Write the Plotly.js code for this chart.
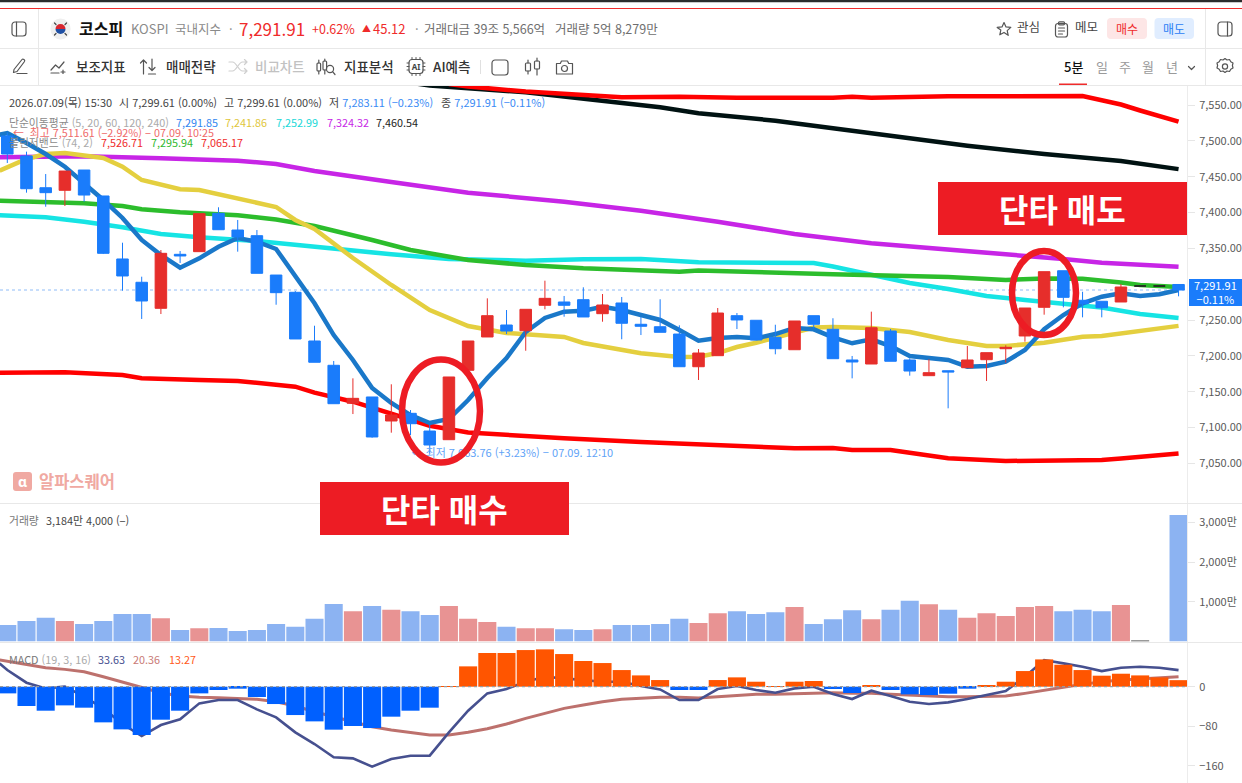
<!DOCTYPE html>
<html lang="ko">
<head>
<meta charset="utf-8">
<title>코스피 5분 차트</title>
<script src="https://cdn.plot.ly/plotly-3.0.1.min.js"></script>
<style>html,body{margin:0;padding:0;background:#fff;overflow:hidden}#chart{width:1242px;height:783px}</style>
</head>
<body>
<div id="chart"></div>
<script>
// ---------- candles (index, open, high, low, close) ----------
const candleIdx = [0,1,2,3,4,5,6,7,8,9,10,11,12,13,14,15,16,17,18,19,20,21,22,23,24,25,26,27,28,29,30,31,32,33,34,35,36,37,38,39,40,41,42,43,44,45,46,47,48,49,50,51,52,53,54,55,56,57,58,61];
const candleOpen = [7506.8,7478.9,7434.6,7431,7459.3,7423.1,7335.2,7302.7,7266.4,7341.7,7345.4,7398.9,7375.6,7367.7,7312.8,7288.7,7220.8,7186.9,7133.9,7142.7,7109.2,7119.9,7095.2,7083.1,7179.9,7226.4,7243.1,7235.1,7270.6,7275.2,7278.4,7258.9,7273.8,7244.1,7240.7,7230.5,7184.9,7200.3,7256.1,7249.7,7225.9,7208.6,7256.1,7237.1,7194.3,7188.7,7234.7,7194.3,7172.4,7179.3,7183.5,7194.7,7210,7227.8,7267.8,7318.8,7277.6,7276.2,7275.2,7299.61];
const candleHigh = [7511.61,7484.9,7453.7,7457.9,7459.3,7423.1,7357.9,7310.5,7347.7,7346.3,7398.4,7407.3,7389.6,7375.6,7312.8,7290.5,7242.1,7192.9,7168.7,7142.7,7160.4,7124.5,7103.6,7170.6,7220.8,7280.3,7264,7265,7304.9,7283.6,7295.7,7286.3,7282.2,7254.3,7279,7242.7,7209.6,7266.8,7259.8,7249.7,7243.5,7248.7,7256.1,7252.5,7199.9,7261.7,7237.5,7196.6,7195.3,7179.3,7213.8,7204.5,7214.8,7266.8,7317.5,7318.8,7289.5,7276.2,7300.3,7299.61];
const candleLow = [7469.1,7427.7,7408.1,7409.1,7415.1,7342.1,7291,7251.5,7258.4,7329.6,7345.4,7376,7345.4,7315.2,7271.4,7223.6,7191.1,7133.3,7118.9,7085.9,7092.9,7089.6,7063.76,7083.1,7179.9,7226.4,7230.5,7207.2,7265,7254.7,7254.3,7247.7,7223.2,7229.1,7232.9,7184.9,7166.4,7200.3,7237.5,7222.2,7202.2,7208.6,7238.5,7196.1,7168.7,7188.7,7192.5,7172.4,7172.4,7126.9,7183.5,7165,7190.5,7219.8,7257.5,7267.8,7253.8,7253.8,7275.2,7283.11];
const candleClose = [7481.6,7433.2,7427.7,7457.9,7424.4,7343.1,7311.5,7276.6,7343.1,7339.4,7398.4,7376,7365.9,7315.2,7288.2,7223.6,7191.1,7133.3,7140.8,7086.9,7117.5,7105.4,7075.7,7170.6,7220.8,7256.1,7234.7,7265,7280.3,7270.6,7254.3,7271,7245.5,7241.3,7232.9,7184.9,7204,7259.8,7250.1,7222.2,7210,7248.7,7244.1,7196.1,7191.5,7239.3,7192.5,7178.9,7176.6,7177.5,7194.3,7204.5,7212,7266.8,7317.5,7281.7,7272.8,7267.2,7296.1,7291.91];
const flatIdx = [59,60];
const flatPrice = [7297.5,7297.5];
const lastClose = 7291.91;

// ---------- moving averages and Bollinger bands ----------
const ma5X = [-0.4,0,1,2,3,4,5,6,7,8,9,10,11,12,13,14,15,16,17,18,19,20,21,22,23,24,25,26,27,28,29,30,31,32,33,34,35,36,37,38,39,40,41,42,43,44,45,46,47,48,49,50,51,52,53,54,55,56,57,58,59,60,61];
const ma5 = [7508.6,7510.9,7497,7481.6,7463.9,7441.2,7417.5,7392.4,7361.7,7340.7,7323,7336.1,7352.3,7364.5,7359.3,7349.1,7310.5,7273.4,7229.1,7194.3,7155.2,7134.3,7117.5,7106.4,7112,7138.5,7169.2,7197.1,7233.3,7252.9,7261.7,7263,7268.6,7264,7257,7250.1,7236.1,7221.2,7225,7226.4,7224.5,7230.5,7239,7237.1,7225.9,7217.6,7223.2,7213.8,7199.9,7196.6,7194.3,7184.9,7185.9,7191.9,7208.2,7237.1,7257,7273.4,7282.6,7287.3,7283.6,7285.9,7291.85];
const ma20X = [-0.4,1,2,3,5,6,7,9,10,12,14,15,16,18,20,22,24,26,27,29,30,33,35,36,37,38,39,40,42,43,45,47,49,51,52,54,56,57,59,61];
const ma20 = [7458.3,7474.7,7481.6,7483,7476.1,7463.9,7445.4,7432.4,7431.4,7420.3,7407.7,7389.6,7377,7336.6,7298.9,7264,7241.7,7232,7230.5,7226.4,7218,7203.6,7198.5,7198.9,7204,7212.4,7218.4,7225,7239.6,7240.3,7239,7233.3,7222.2,7213.8,7213.8,7218.4,7226.8,7227.8,7234.7,7241.86];
const ma60X = [-0.4,2,4,6,8,10,13,16,20,23,27,30,33,36,42,43,45,47,49,51,53,55,57,59,61];
const ma60 = [7396.1,7393.3,7387.2,7379.4,7370,7365.4,7360.3,7351.9,7341.7,7335.2,7332.8,7334.8,7335.2,7330.6,7329.6,7324.7,7313.5,7301.7,7293.3,7283.6,7278,7272.4,7267.5,7258.4,7252.99];
const ma120X = [-0.4,4,8,12,14,16,20,24,29,33,37,41,45,49,52,55,57,61];
const ma120 = [7477,7478.4,7475.6,7472.3,7467.7,7457.9,7442.6,7427.7,7415.1,7402.5,7387.2,7370,7357.1,7347.7,7341.7,7335.2,7330,7324.32];
const ma240X = [20,22,27,32,34,36,40,43,47,50,54,56,58,61];
const ma240 = [7585,7577.2,7567.7,7553.2,7546.8,7538.4,7528.1,7517.5,7503.5,7493.2,7481.6,7477,7471.9,7460.54];
const bbUpX = [23,24,27,32,35,38,43,44,45,49,56,58,59,61];
const bbUp = [7579.3,7575.8,7568.8,7560.7,7561.6,7560.2,7560.2,7561.6,7560.2,7562.1,7562.6,7550.7,7542.3,7526.71];
const bbMidX = [-0.4,2,4,6,7,9,12,14,16,19,21,24,27,30,33,35,36,40,43,49,51,52,54,56,58,59,61];
const bbMid = [7416.5,7414.3,7412.9,7409.1,7404.5,7400.3,7396.1,7390.3,7381.2,7361.7,7347.7,7333.8,7326.8,7322.2,7319.8,7317.5,7319.1,7315.2,7313.8,7310.1,7308,7305.9,7308,7307.7,7302.4,7298.9,7295.94];
const bbLowX = [-0.4,3,6,7,10,12,15,16,18,20,22,24,26,29,33,41,43,44,46,49,52,57,58,61];
const bbLow = [7176.6,7177.1,7173.3,7168.7,7166.4,7165,7157,7148.7,7136.1,7118.9,7102.6,7093.1,7089.6,7085,7079.9,7071.1,7071.5,7068.7,7068.7,7057.1,7053.4,7054.8,7056.9,7064];

// ---------- volume (만) ----------
const volume = [413,514,598,514,438,514,690,690,581,287,329,338,262,287,438,371,573,942,757,892,799,757,665,892,573,489,371,329,329,304,287,304,413,413,438,573,463,707,757,690,732,866,438,556,783,556,799,1026,934,799,598,707,640,866,892,757,799,757,917,20,0,3184.4];

// ---------- MACD ----------
const macdX = [-0.4,0,1,2,3,4,5,6,7,8,9,10,11,12,13,14,15,16,17,18,19,20,21,22,23,24,25,26,27,28,29,30,31,32,33,34,35,36,37,38,39,40,41,42,43,44,45,46,47,48,49,50,51,52,53,54,55,56,57,58,59,60,61];
const macdLine = [47.2,33.7,8.1,-3.4,0,-20.2,-43.9,-75.6,-99.9,-77.6,-66.1,-33.7,-27,-27,-45.9,-62.1,-92.4,-116.1,-143,-145.1,-161.9,-146.4,-139.7,-139.7,-92.4,-48.6,-13.5,-4.7,10.1,20.2,16.9,13.5,10.1,10.1,1.3,-5.4,-27,-27,-4.7,1.3,-6.7,-12.1,-3.4,0,-14.8,-25,-8.1,-18.9,-30.4,-35.1,-31.7,-25,-16.2,-8.8,20.2,54,47.2,40.5,31.7,38.5,40.5,38.5,33.63];
const macdSignal = [54,51.3,43.9,38.5,35.1,30.4,20.2,9.4,-2.7,-12.1,-18.9,-21.6,-22.3,-23.6,-25.6,-30.4,-39.1,-50.6,-60.7,-70.9,-81,-87.7,-93.1,-97.8,-97.8,-92.4,-85,-75.6,-64.1,-54,-43.9,-37.1,-30.4,-25.6,-23.6,-21.6,-21.6,-22.9,-20.2,-17.5,-15.5,-15.5,-14.2,-12.1,-12.1,-13.5,-13.5,-15.5,-17.5,-18.9,-20.2,-20.2,-18.9,-18.9,-13.5,-6.7,-1.3,4.7,10.1,13.5,16.2,18.2,20.36];
const macdHist = [-13.5,-39.1,-48.6,-37.8,-42.5,-72.2,-86.4,-97.8,-66.8,-48.6,-13.5,-6.7,-4,-20.9,-35.1,-57.4,-70.2,-87,-79.6,-83.7,-60.7,-48.6,-42.5,1.3,41.2,68.2,68.2,74.2,75.6,66.1,52,47.9,33.7,22.9,13.5,-6.7,-6.7,13.5,18.9,10.1,1.3,10.1,11.5,-4.7,-12.8,2.7,-6.7,-15.5,-16.9,-14.2,-4,2.7,10.1,31.7,55.3,44.5,33.7,22.3,26.3,22.9,18.9,13.27];

// ---------- tick labels ----------
const priceTicks = [7050,7100,7150,7200,7250,7350,7400,7450,7500,7550];
const volTicks = [1000,2000,3000];
const volTickText = ['1,000만','2,000만','3,000만'];
const macdTicks = [-160,-80,0];

// ---------- colours ----------
const RED='#e62e2b', BLUE='#1a7cfb', GREY='#8a8a8a', DARK='#333333', BRAND='#ed1c24';
const FONT='"Noto Sans CJK KR","Noto Sans",sans-serif';
const FONTM='"Noto Sans CJK KR Medium","Noto Sans CJK KR","Noto Sans",sans-serif';

const W=1242, H=783;
const px=x=>x/W, py=y=>1-y/H;
const allIdx = volume.map((_,i)=>i);

// colours for volume bars follow the candle direction
const volColors = allIdx.map(i=>{
  const k=candleIdx.indexOf(i);
  if(k<0) return '#999999';
  return candleClose[k]>candleOpen[k] ? '#e89393' : '#8cb3f2';
});
const histColors = macdHist.map(v=>v>=0?'#ff5500':'#0060ff');

function line(x,y,color,width,yaxis){
  return {type:'scatter',mode:'lines',x,y,xaxis:'x',yaxis:yaxis||'y',line:{color,width},hoverinfo:'skip',showlegend:false};
}
const traces=[
  line(ma240X,ma240,'#001212',4.5),
  line(ma120X,ma120,'#c725e6',4.5),
  line(ma60X,ma60,'#16e4e4',4.5),
  line(bbUpX,bbUp,'#ff0000',4.5),
  line(bbMidX,bbMid,'#2cbd2c',4.5),
  line(bbLowX,bbLow,'#ff0000',4.5),
  line(ma20X,ma20,'#e4cf3f',4.5),
  line(ma5X,ma5,'#1a78c9',4.5),
  {type:'candlestick',x:candleIdx,open:candleOpen,high:candleHigh,low:candleLow,close:candleClose,xaxis:'x',yaxis:'y2',
   increasing:{line:{color:RED,width:1},fillcolor:RED},decreasing:{line:{color:BLUE,width:1},fillcolor:BLUE},
   hoverinfo:'skip',showlegend:false},
  {type:'candlestick',x:flatIdx,open:flatPrice,high:flatPrice,low:flatPrice,close:flatPrice,xaxis:'x',yaxis:'y2',
   increasing:{line:{color:'#222222',width:1}},decreasing:{line:{color:'#222222',width:1}},
   hoverinfo:'skip',showlegend:false},
  {type:'scatter',mode:'text',x:[21.05],y:[7063.5],xaxis:'x',yaxis:'y2',text:['← 최저 7,063.76 (+3.23%) − 07.09. 12:10'],
   textposition:'middle right',textfont:{family:FONT,size:11,color:'#5fa3f7'},cliponaxis:false,hoverinfo:'skip',showlegend:false},
  {type:'bar',x:allIdx,y:volume,xaxis:'x',yaxis:'y3',width:0.94,marker:{color:volColors,line:{width:0}},hoverinfo:'skip',showlegend:false},
  line(macdX,macdSignal,'#bd716d',3,'y4'),
  line(macdX,macdLine,'#46508f',2.6,'y4'),
  {type:'bar',x:allIdx,y:macdHist,xaxis:'x',yaxis:'y5',width:0.94,marker:{color:histColors,line:{width:0}},hoverinfo:'skip',showlegend:false}
];

// axis helpers
const domX=[0,1187/W];
const priceRange=[6994.8,7576.5];
const macdRange=[-195,88.5];
function axisBase(){
  return {side:'right',anchor:'x',showgrid:false,zeroline:false,showline:false,ticks:'outside',ticklen:7,tickwidth:1,tickcolor:'#e6e6e6',
    tickfont:{family:FONT,size:11,color:'#5a5a5a'},fixedrange:true,ticklabelstandoff:2};
}

// text helpers
const ann=[];
function label(text,x,y,size,color,o){
  ann.push(Object.assign({text,x:px(x),y:py(y),xref:'paper',yref:'paper',xanchor:'left',yanchor:'middle',showarrow:false,borderpad:0,
    font:{family:FONT,size,color}},o||{}));
}
const B=t=>'<b>'+t+'</b>';
function med(text,x,y,size,color){
  ann.push({text,x:px(x),y:py(y),xref:'paper',yref:'paper',xanchor:'left',yanchor:'middle',showarrow:false,borderpad:0,
    font:{family:FONTM,size,color}});
}
// header row
label(B('코스피'),78,27.5,16,'#111');
label('KOSPI',130,28,13,'#8a8a8a');
label('국내지수',174,28,12.5,'#8a8a8a');
label('·',228,28,13,'#8a8a8a');
label('7,291.91',238,28,17,'#ef2b2b');
label('+0.62%',311,28,12.5,'#ef2b2b');
label('▲',361,28,9,'#ef2b2b');
label('45.12',372,28,13,'#ef2b2b');
label('·',414,28,13,'#8a8a8a');
label('거래대금 39조 5,566억',423,28,12.5,'#6e6e6e');
label('거래량 5억 8,279만',554,28,12.5,'#6e6e6e');
label('관심',1016,27,12.5,'#444');
label('메모',1074,27,12.5,'#444');
label('매수',1127,28.5,12,'#ef2b2b',{xanchor:'center'});
label('매도',1174,28.5,12,'#2b80f5',{xanchor:'center'});
// toolbar
med('보조지표',75,66,13.5,'#333');
med('매매전략',165,66,13.5,'#333');
med('비교차트',254,66,13.5,'#c2c2c2');
med('지표분석',343,66,13.5,'#333');
med('AI예측',432,66,13.5,'#333');
med('5분',1063,67,13,'#111');
label('일',1095,67,13,'#9a9a9a');
label('주',1118,67,13,'#9a9a9a');
label('월',1141,67,13,'#9a9a9a');
label('년',1165,67,13,'#9a9a9a');
// indicator legends
label('2026.07.09(목) 15:30',8,102,11,'#444');
label('시 7,299.61 (0.00%)',118,102,11,'#444');
label('고 7,299.61 (0.00%)',223,102,11,'#444');
label('저 <span style="color:#3a8bf5">7,283.11 (−0.23%)</span>',328,102,11,'#444');
label('종 <span style="color:#3a8bf5">7,291.91 (−0.11%)</span>',440,102,11,'#444');
label('단순이동평균 <span style="color:#aaa">(5, 20, 60, 120, 240)</span>',8,122,10.8,'#8a8a8a');
label('7,291.85',175,122,10.8,'#2f86f0');
label('7,241.86',224,122,10.8,'#e0c63a');
label('7,252.99',275,122,10.8,'#19d8d8');
label('7,324.32',326,122,10.8,'#c725e6');
label('7,460.54',375,122,10.8,'#222');
label('←  최고 7,511.61 (−2.92%) − 07.09. 10:25',12,132.5,10.8,'#ef6a6a');
label('볼린저밴드 <span style="color:#aaa">(74, 2)</span>',8,142.5,10.8,'#8a8a8a');
label('7,526.71',100,142.5,10.8,'#ef2b2b');
label('7,295.94',150,142.5,10.8,'#2fb82f');
label('7,065.17',200,142.5,10.8,'#ef2b2b');
// watermark
label(B('알파스퀘어'),38,481,16.5,'#f0a9a2');
// volume + MACD legends
label('거래량',8,519.5,10.8,'#777');
label('3,184만 4,000 (−)',45,519.5,10.8,'#444');
label('MACD <span style="color:#aaa">(19, 3, 16)</span>',8,659,10.8,'#777');
label('33.63',97,659,10.8,'#46508f');
label('20.36',132,659,10.8,'#c97a76');
label('13.27',168,659,10.8,'#ff5a1a');
// price tag
label('7,291.91<br>−0.11%',1215.5,292,11,'#fff',{xanchor:'center'});
// callouts
label(B('단타 매수'),444.5,508,32,'#fff',{xanchor:'center'});
label(B('단타 매도'),1062.5,208,32,'#fff',{xanchor:'center'});

// shapes
const sh=[];
function rect(x0,y0,x1,y1,fill,layer){
  sh.push({type:'rect',xref:'paper',yref:'paper',x0:px(x0),x1:px(x1),y0:py(y0),y1:py(y1),fillcolor:fill,line:{width:0},layer:layer||'above'});
}
function seg(x0,y0,x1,y1,color,w){
  sh.push({type:'line',xref:'paper',yref:'paper',x0:px(x0),x1:px(x1),y0:py(y0),y1:py(y1),line:{color,width:w||1},layer:'above'});
}
rect(0,0,1242,2.2,'#2b2b2b');
rect(0,8,1242,9,'#ef2b2b');
seg(38.5,9,38.5,85,'#e8e8e8');
seg(1205.5,9,1205.5,85,'#e8e8e8');
seg(0,48.5,1242,48.5,'#e8e8e8');
seg(0,85.5,1242,85.5,'#e8e8e8');
seg(1187.5,86,1187.5,783,'#ececec');
seg(0,503.5,1242,503.5,'#e8e8e8');
seg(0,642.5,1242,642.5,'#e8e8e8');
rect(1059,83.5,1087,85,'#ef2b2b');
seg(480.5,60,480.5,74,'#e0e0e0');
sh.push({type:'line',xref:'paper',yref:'y',x0:0,x1:1187/W,y0:lastClose,y1:lastClose,line:{color:'#8fbcf7',width:1,dash:'dot'},layer:'below'});
sh.push({type:'line',xref:'paper',yref:'y5',x0:0,x1:1187/W,y0:0,y1:0,line:{color:'#9a9a9a',width:1.2,dash:'3px,3px'},layer:'above'});
function rrect(x0,y0,x1,y1,fill){
  const r=4;
  const X=v=>px(v).toFixed(5), Y=v=>py(v).toFixed(5);
  sh.push({type:'path',xref:'paper',yref:'paper',line:{width:0},fillcolor:fill,layer:'above',
    path:`M${X(x0+r)} ${Y(y0)} L${X(x1-r)} ${Y(y0)} Q${X(x1)} ${Y(y0)} ${X(x1)} ${Y(y0+r)} L${X(x1)} ${Y(y1-r)} Q${X(x1)} ${Y(y1)} ${X(x1-r)} ${Y(y1)} L${X(x0+r)} ${Y(y1)} Q${X(x0)} ${Y(y1)} ${X(x0)} ${Y(y1-r)} L${X(x0)} ${Y(y0+r)} Q${X(x0)} ${Y(y0)} ${X(x0+r)} ${Y(y0)} Z`});
}
rrect(1107,18,1147,39,'#fde6e6');
rrect(1154.5,18,1194,39,'#e0edff');
rect(1189,279,1242,306,'#1a7cfb');
rect(320,482,569,535,BRAND);
rect(938,182,1187,235,BRAND);
function ell(x0,y0,x1,y1){
  sh.push({type:'circle',xref:'paper',yref:'paper',x0:px(x0),x1:px(x1),y0:py(y0),y1:py(y1),line:{color:BRAND,width:6.5},layer:'above'});
}
ell(402,359.5,480,462.5);
ell(1012,251,1076,335);

// icons as inline SVG images
const imgs=[];
function icon(x,y,w,h,inner){
  const svg=`<svg xmlns="http://www.w3.org/2000/svg" width="${w}" height="${h}" viewBox="0 0 ${w} ${h}" fill="none" stroke="#555" stroke-width="1.2" stroke-linecap="round" stroke-linejoin="round">${inner}</svg>`;
  imgs.push({source:'data:image/svg+xml;charset=utf-8,'+encodeURIComponent(svg),xref:'paper',yref:'paper',x:px(x),y:py(y),sizex:w/W,sizey:h/H,xanchor:'left',yanchor:'top',sizing:'stretch',layer:'above'});
}
icon(11,21,16,16,'<rect x="1" y="1" width="14" height="14" rx="3"/><line x1="5.5" y1="1" x2="5.5" y2="15"/>');
icon(1216,21,18,16,'<rect x="2" y="1" width="14" height="14" rx="3"/><line x1="11.5" y1="1" x2="11.5" y2="15"/>');
icon(50,18,21,22,'<rect x="0.5" y="0.5" width="20" height="21" rx="10" fill="#efefef" stroke="none"/><path d="M5.5 11a5 5 0 0 1 10 0z" fill="#d8252f" stroke="none"/><path d="M5.5 11a5 5 0 0 0 10 0z" fill="#1f4fa3" stroke="none"/><g stroke="#444" stroke-width="1.2"><line x1="4.5" y1="5" x2="6" y2="6.5"/><line x1="15" y1="6.5" x2="16.5" y2="5"/><line x1="4.5" y1="17" x2="6" y2="15.5"/><line x1="15" y1="15.5" x2="16.5" y2="17"/></g>');
icon(996,21,16,15,'<path d="M8 1.5l2 4.4 4.8.5-3.6 3.2 1 4.7L8 11.4 3.8 13.8l1-4.7L1.2 6.4 6 5.9z"/>');
icon(1054,21,15,17,'<rect x="1.5" y="2.5" width="12" height="13.5" rx="2.5"/><rect x="4.5" y="0.8" width="6" height="3" rx="1"/><line x1="4.5" y1="7" x2="10.5" y2="7"/><line x1="4.5" y1="10" x2="10.5" y2="10"/><line x1="4.5" y1="13" x2="8.5" y2="13"/>');
icon(11,57,18,18,'<path d="M3 12.5L11 2.5c1-1.2 3.4.6 2.5 2L6 14.5l-3.5 1z"/><path d="M6 16.5h10"/>');
icon(50,59,18,15,'<path d="M1 11l4.5-5 3.5 3 5-6"/><path d="M1 14h8"/><path d="M13 11v4M11 13h4"/>');
icon(139,58,19,18,'<path d="M4.5 16V2M1.5 5l3-3 3 3"/><path d="M13 1v11M10 9.5l3 3 3-3"/><path d="M9.5 16h7"/>');
icon(228,59,20,15,'<g stroke="#cfcfcf"><path d="M1 3h3.5c4 0 6 9 10 9H19M16.5 9.5L19 12l-2.5 2.5"/><path d="M1 12h3.5c4 0 6-9 10-9H19M16.5.5L19 3l-2.5 2.5"/></g>');
icon(316,58,20,18,'<rect x="1" y="5" width="3.6" height="8" rx="1"/><line x1="2.8" y1="2" x2="2.8" y2="5"/><line x1="2.8" y1="13" x2="2.8" y2="16"/><rect x="7" y="3" width="3.6" height="9" rx="1"/><line x1="8.8" y1="1" x2="8.8" y2="3"/><line x1="8.8" y1="12" x2="8.8" y2="16"/><circle cx="14" cy="11" r="3.6"/><line x1="16.6" y1="13.6" x2="19" y2="16.5"/>');
icon(406,57,20,19,'<rect x="3" y="2.5" width="14" height="14" rx="3"/><g stroke-width="1"><path d="M6 0.5v2M10 0.5v2M14 0.5v2M6 16.5v2M10 16.5v2M14 16.5v2M1 6h2M1 9.5h2M1 13h2M17 6h2M17 9.5h2M17 13h2"/></g><text x="10" y="13" font-family="Noto Sans,sans-serif" font-size="8" font-weight="700" fill="#444" stroke="none" text-anchor="middle">AI</text>');
icon(491,59,18,17,'<rect x="1" y="1" width="16" height="15" rx="3"/>');
icon(524,57,17,19,'<rect x="1.5" y="6" width="5" height="8" rx="1"/><line x1="4" y1="3" x2="4" y2="6"/><line x1="4" y1="14" x2="4" y2="17"/><rect x="10.5" y="4" width="5" height="8" rx="1"/><line x1="13" y1="1" x2="13" y2="4"/><line x1="13" y1="12" x2="13" y2="18"/>');
icon(555,59,19,16,'<path d="M1.5 4.5h3.8l1.2-2.5h6l1.2 2.5h3.8v10.5h-16z"/><circle cx="9.5" cy="9.5" r="3"/>');
icon(1216,57,18,19,'<path d="M9 1.5l2 1.5 2.5-.5 1.3 2.3 2.2 1.2-.6 2.5.6 2.5-2.2 1.2-1.3 2.3-2.5-.5-2 1.5-2-1.5-2.5.5-1.3-2.3-2.2-1.2.6-2.5-.6-2.5 2.2-1.2 1.3-2.3 2.5.5z"/><circle cx="9" cy="9.5" r="2.6"/>');
icon(1187,65,9,6,'<path d="M1.5 1.5l3 3 3-3"/>');
icon(13,472,19,19,'<rect x="0" y="0" width="19" height="19" rx="3" fill="#f0a9a2" stroke="none"/><text x="9.5" y="15" font-family="Noto Sans,sans-serif" font-size="14" font-weight="700" fill="#fff" stroke="none" text-anchor="middle">α</text>');

const layout={
  width:W,height:H,margin:{l:0,r:0,t:0,b:0,pad:0},paper_bgcolor:'#fff',plot_bgcolor:'rgba(0,0,0,0)',showlegend:false,hovermode:false,dragmode:false,
  boxgap:0.4,boxgroupgap:0,boxmode:'overlay',barmode:'overlay',
  xaxis:{domain:domX,range:[-0.38,61.44],anchor:'y3',showticklabels:false,ticks:'',showgrid:false,zeroline:false,showline:false,fixedrange:true,rangeslider:{visible:false}},
  yaxis:Object.assign(axisBase(),{domain:[py(503),py(86)],range:priceRange,tickvals:priceTicks,tickformat:',.2f'}),
  yaxis2:{overlaying:'y',side:'right',anchor:'x',range:priceRange,visible:false,fixedrange:true},
  yaxis3:Object.assign(axisBase(),{domain:[py(641.4),py(503)],range:[0,3486],tickvals:volTicks,ticktext:volTickText}),
  yaxis4:Object.assign(axisBase(),{domain:[0,py(643)],range:macdRange,tickvals:macdTicks}),
  yaxis5:{overlaying:'y4',side:'right',anchor:'x',range:macdRange,visible:false,fixedrange:true},
  shapes:sh,annotations:ann,images:imgs
};
Plotly.newPlot('chart',traces,layout,{displayModeBar:false,responsive:false});
</script>
</body>
</html>
